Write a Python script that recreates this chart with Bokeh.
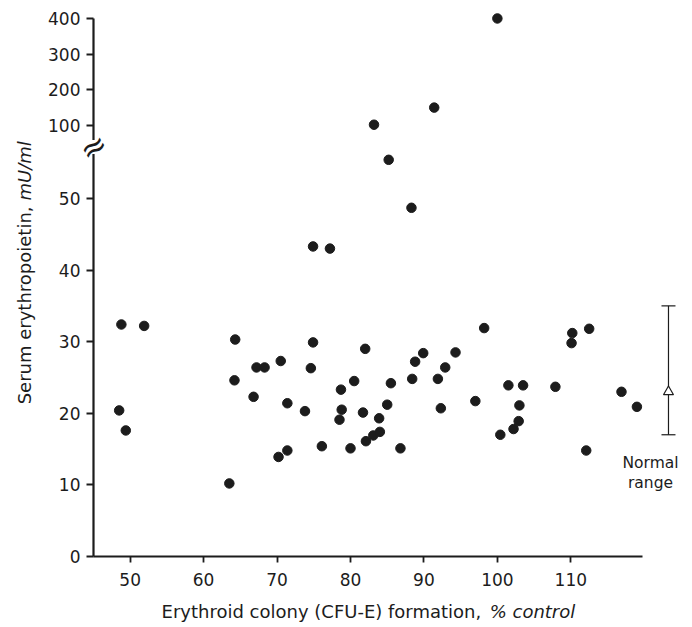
import math
from bokeh.plotting import figure
from bokeh.models import (Range1d, FixedTicker, CustomJSTickFormatter, Label,
                          Whisker, ColumnDataSource, TeeHead)
from bokeh.embed import file_html
from bokeh.resources import INLINE

# ---------------- data ----------------
cfu_e_pct = [48.8, 51.9, 48.5, 49.4,
             64.3, 64.2, 63.5, 66.8, 67.2, 68.3, 70.5, 70.2, 71.4, 71.4, 73.8, 74.6, 74.9, 76.1,
             78.7, 78.8, 78.5, 80.0, 80.5, 82.0, 81.7, 82.1, 83.1, 84.0, 83.9, 85.0, 85.5, 86.8,
             88.4, 88.8, 89.9, 91.9, 92.3, 92.9, 94.3, 97.0, 98.2, 100.4, 101.5, 102.2, 102.9,
             103.0, 103.5, 107.9, 110.1, 110.2, 112.5, 112.1, 116.9, 119.0,
             74.9, 77.2, 88.3, 85.2,
             83.2, 91.4, 100.0]
epo_mU_ml = [32.4, 32.2, 20.4, 17.6,
             30.3, 24.6, 10.2, 22.3, 26.4, 26.4, 27.3, 13.9, 21.4, 14.8, 20.3, 26.3, 29.9, 15.4,
             23.3, 20.5, 19.1, 15.1, 24.5, 29.0, 20.1, 16.1, 16.9, 17.4, 19.3, 21.2, 24.2, 15.1,
             24.8, 27.2, 28.4, 24.8, 20.7, 26.4, 28.5, 21.7, 31.9, 17.0, 23.9, 17.8, 18.9,
             21.1, 23.9, 23.7, 29.8, 31.2, 31.8, 14.8, 23.0, 20.9,
             43.3, 43.0, 48.7, 55.4,
             102, 150, 400]
x_ticks = [50, 60, 70, 80, 90, 100, 110]
lower_y_ticks = [0, 10, 20, 30, 40, 50]
upper_y_ticks = [100, 200, 300, 400]
normal_low = [17]
normal_mean = [23]
normal_high = [35]

# ---------------- geometry ----------------
X0, X1 = 32.34, 126.57      # frame spans the whole canvas; axes sit at fixed locations
Y0, Y1 = -9.92, 77.65
BRK = 57.2                  # where the y axis is broken
UP_V0, UP_L0 = 100.0, 60.2
UP_V1, UP_L1 = 400.0, 75.14
SLOPE = (UP_L1 - UP_L0) / (UP_V1 - UP_V0)


def to_lower(v):
    return UP_L0 + (v - UP_V0) * SLOPE


upper_start = UP_V0 + (Y0 - UP_L0) / SLOPE
upper_end = UP_V0 + (Y1 - UP_L0) / SLOPE

FONT = "DejaVu Sans"
INK = "#1c1c1c"

p = figure(width=692, height=627, x_range=Range1d(X0, X1), y_range=Range1d(Y0, Y1),
           output_backend="svg", toolbar_location=None,
           min_border_left=0, min_border_right=0, min_border_top=0, min_border_bottom=0)
p.extra_y_ranges = {"upper": Range1d(upper_start, upper_end)}
p.grid.visible = False
p.outline_line_color = None
p.background_fill_color = "white"
p.border_fill_color = "white"

lo_x = [x for x, y in zip(cfu_e_pct, epo_mU_ml) if y < BRK]
lo_y = [y for y in epo_mU_ml if y < BRK]
hi_x = [x for x, y in zip(cfu_e_pct, epo_mU_ml) if y >= BRK]
hi_y = [y for y in epo_mU_ml if y >= BRK]
p.scatter(lo_x, lo_y, size=9.5, color=INK)
p.scatter(hi_x, hi_y, size=9.5, color=INK, y_range_name="upper")

# axes
for ax in (p.xaxis, p.yaxis):
    ax.axis_line_width = 2.2
    ax.axis_line_color = INK
    ax.major_tick_line_width = 1.8
    ax.major_tick_line_color = INK
    ax.major_tick_in = 0
    ax.minor_tick_in = 0
    ax.minor_tick_out = 0
    ax.major_label_text_font = FONT
    ax.major_label_text_font_size = "17px"
    ax.major_label_text_color = INK

p.xaxis.fixed_location = 0
p.xaxis.ticker = FixedTicker(ticks=x_ticks)
p.xaxis.bounds = (45, 119.7)
p.xaxis.major_tick_out = 6
p.xaxis.major_label_standoff = 11

p.yaxis.fixed_location = 45
p.yaxis.ticker = FixedTicker(ticks=lower_y_ticks + [to_lower(v) for v in upper_y_ticks])
p.yaxis.formatter = CustomJSTickFormatter(
    args=dict(v0=UP_V0, l0=UP_L0, s=SLOPE, brk=BRK),
    code="""
if (tick > brk) { return String(Math.round((v0 + (tick - l0) / s) / 10) * 10); }
return String(Math.round(tick));
""")
p.yaxis.bounds = (0, to_lower(400))
p.yaxis.major_tick_out = 7
p.yaxis.major_label_standoff = 6

# axis break: white gap + marks
p.add_layout(Label(x=45, y=BRK, text="\u2002", text_font_size="12px",
                   text_align="center", text_baseline="middle",
                   background_fill_color="white", border_line_color=None))
p.add_layout(Label(x=45, y=BRK, text="\u2248", text_font=FONT, text_font_size="32px",
                   text_align="center", text_baseline="middle", angle=0.55, text_color=INK))

# normal range
src = ColumnDataSource(dict(base=[123.3], lower=normal_low, upper=normal_high))
p.add_layout(Whisker(source=src, base="base", lower="lower", upper="upper", dimension="height",
                     line_color=INK, line_width=1.2,
                     lower_head=TeeHead(size=14, line_color=INK, line_width=1.2),
                     upper_head=TeeHead(size=14, line_color=INK, line_width=1.2)))
p.scatter([123.3], normal_mean, marker="triangle", size=10, fill_color="white",
          line_color=INK, line_width=1.2)
p.add_layout(Label(x=120.85, y=12.99, text="Normal", text_font=FONT, text_font_size="15.5px",
                   text_align="center", text_baseline="middle", text_color=INK))
p.add_layout(Label(x=120.85, y=10.2, text="range", text_font=FONT, text_font_size="15.5px",
                   text_align="center", text_baseline="middle", text_color=INK))

# axis titles (mixed roman / italic)
p.add_layout(Label(x=35.6, y=48.88, text="Serum erythropoietin,", text_font=FONT,
                   text_font_size="18px", angle=math.pi / 2, text_align="right",
                   text_baseline="middle", text_color=INK))
p.add_layout(Label(x=35.6, y=49.72, text="mU/ml", text_font=FONT, text_font_style="italic",
                   text_font_size="18px", angle=math.pi / 2, text_align="left",
                   text_baseline="middle", text_color=INK))
p.add_layout(Label(x=97.8, y=-7.65, text="Erythroid colony (CFU-E) formation,", text_font=FONT,
                   text_font_size="18px", text_align="right", text_baseline="middle",
                   text_color=INK))
p.add_layout(Label(x=98.95, y=-7.65, text="% control", text_font=FONT, text_font_style="italic",
                   text_font_size="18px", text_align="left", text_baseline="middle",
                   text_color=INK))

open("out.html", "w").write(file_html(p, INLINE))
